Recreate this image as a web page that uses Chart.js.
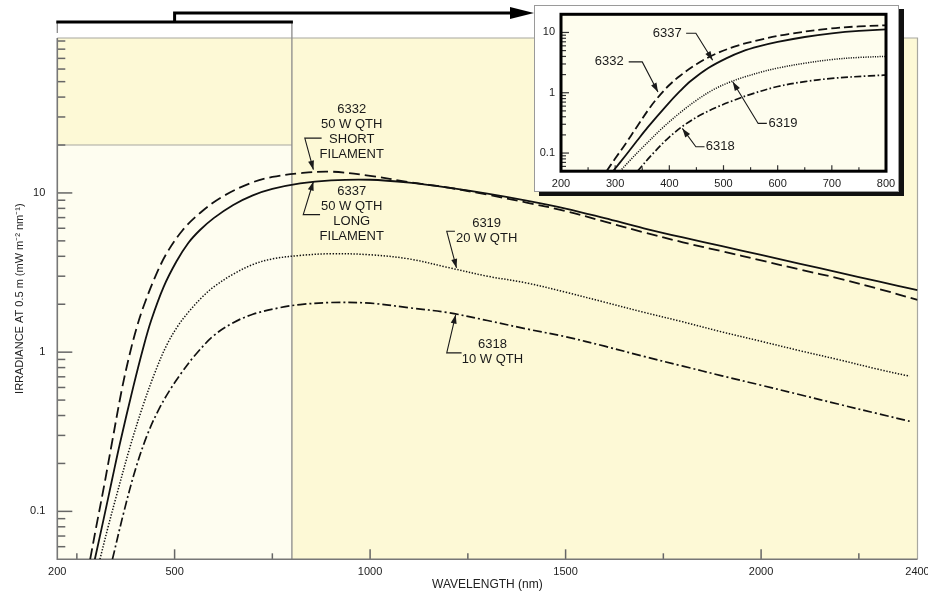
<!DOCTYPE html>
<html>
<head>
<meta charset="utf-8">
<script src="https://cdn.jsdelivr.net/npm/chart.js@4.4.1/dist/chart.umd.min.js"></script>
<style>
  body { margin: 0; background: #fff; }
  #wrap { position: relative; width: 928px; height: 597px; }
  canvas { display: block; }
  #inset {
    position: absolute; left: 534px; top: 5px; width: 365px; height: 187px;
    background: #fff; border: 1px solid #9a9a9a; box-sizing: border-box;
    box-shadow: 5px 4px 0 #111;
  }
</style>
</head>
<body>
<div id="wrap">
  <canvas id="mainChart" width="928" height="597"></canvas>
  <div id="inset"><canvas id="insetChart" width="363" height="185"></canvas></div>
</div>
<script>
// 6332, 50 W QTH short filament (dashed)
const nm6332 = [284, 300, 320, 339, 365, 383, 401, 420, 450, 480, 520, 565, 620, 693, 750, 821, 900, 1000, 1100, 1200, 1300, 1400, 1500, 1600, 1700, 1800, 1900, 2000, 2100, 2200, 2300, 2400];
const irr6332 = [0.05, 0.081, 0.146, 0.263, 0.582, 0.923, 1.37, 1.92, 2.96, 4.19, 5.81, 7.48, 9.4, 11.5, 12.6, 13.3, 13.6, 12.8, 11.7, 10.8, 9.75, 8.7, 7.7, 6.6, 5.65, 4.9, 4.3, 3.77, 3.3, 2.9, 2.5, 2.13];

// 6337, 50 W QTH long filament (solid)
const nm6337 = [296, 320, 340, 360, 394, 420, 440, 472, 505, 535, 565, 600, 650, 700, 750, 821, 900, 1000, 1100, 1200, 1300, 1400, 1500, 1600, 1700, 1800, 1900, 2000, 2100, 2200, 2300, 2400];
const irr6337 = [0.05, 0.093, 0.158, 0.266, 0.601, 1.07, 1.58, 2.57, 3.72, 4.85, 5.85, 6.95, 8.41, 9.66, 10.6, 11.5, 12.0, 12.1, 11.6, 10.8, 9.9, 8.95, 7.98, 6.94, 6.0, 5.25, 4.63, 4.08, 3.59, 3.16, 2.78, 2.45];

// 6319, 20 W QTH (dotted)
const nm6319 = [309, 330, 350, 386, 420, 450, 480, 510, 540, 570, 600, 650, 700, 750, 821, 900, 1000, 1100, 1200, 1300, 1400, 1500, 1600, 1700, 1800, 1900, 2000, 2100, 2200, 2300, 2380];
const irr6319 = [0.05, 0.08, 0.122, 0.254, 0.468, 0.748, 1.11, 1.48, 1.84, 2.21, 2.57, 3.09, 3.55, 3.85, 4.05, 4.15, 4.09, 3.85, 3.4, 3.0, 2.72, 2.38, 2.06, 1.78, 1.55, 1.34, 1.17, 1.02, 0.895, 0.78, 0.706];

// 6318, 10 W QTH (dash-dot)
const nm6318 = [341, 370, 400, 430, 460, 490, 520, 550, 600, 650, 700, 770, 821, 900, 1000, 1100, 1200, 1300, 1400, 1500, 1600, 1700, 1800, 1900, 2000, 2100, 2200, 2300, 2380];
const irr6318 = [0.05, 0.0986, 0.184, 0.302, 0.439, 0.589, 0.755, 0.942, 1.27, 1.53, 1.73, 1.905, 1.99, 2.05, 2.03, 1.9, 1.77, 1.58, 1.4, 1.25, 1.09, 0.94, 0.817, 0.71, 0.62, 0.54, 0.47, 0.41, 0.368];

// axis ticks
const xTickLabels = [200, 500, 1000, 1500, 2000, 2400];
const xMajorTicks = [500, 1000, 1500, 2000];
const xMinorTicks = [250, 750, 1250, 1750, 2250];
const yTickLabels = [0.1, 1, 10];
const yMinorTicks = [0.06, 0.07, 0.08, 0.09, 0.2, 0.3, 0.4, 0.5, 0.6, 0.7, 0.8, 0.9,
                     2, 3, 4, 5, 6, 7, 8, 9, 20, 30, 40, 50, 60, 70, 80, 90];

// inset: 200-800 nm
const insetXLabels = [200, 300, 400, 500, 600, 700, 800];
const insetXMinor = [250, 350, 450, 550, 650, 750];
const insetYLabels = [0.1, 1, 10];
const insetYMinor = [0.06, 0.07, 0.08, 0.09, 0.2, 0.3, 0.4, 0.5, 0.6, 0.7, 0.8, 0.9, 2, 3, 4, 5, 6, 7, 8, 9];

// callouts: text anchor, leader elbow and arrow tip in data units
const mainNotes = [
  { lines: ['6332', '50 W QTH', 'SHORT', 'FILAMENT'], text: [953, 33.4], leader: [[876, 22.1], [833, 22.1], [855, 14.0]] },
  { lines: ['6337', '50 W QTH', 'LONG', 'FILAMENT'], text: [953, 10.2], leader: [[872, 7.31], [829, 7.31], [855, 11.8]] },
  { lines: ['6319', '20 W QTH'], text: [1298, 6.4], leader: [[1217, 5.74], [1196, 5.74], [1221, 3.38]] },
  { lines: ['6318', '10 W QTH'], text: [1313, 1.12], leader: [[1234, 0.99], [1196, 0.99], [1219, 1.72]] }
];
const insetNotes = [
  { lines: ['6337'], text: [396, 9.7], leader: [[431, 9.7], [449, 9.7], [480, 3.47]] },
  { lines: ['6332'], text: [289, 3.25], leader: [[325, 3.25], [350, 3.25], [379, 1.03]] },
  { lines: ['6319'], text: [610, 0.31], leader: [[580, 0.31], [564, 0.31], [517, 1.52]] },
  { lines: ['6318'], text: [494, 0.127], leader: [[465, 0.127], [449, 0.127], [424, 0.256]] }
];

const series = [
  { label: '6332', nm: nm6332, irr: irr6332, dash: [11, 5], width: 1.8 },
  { label: '6337', nm: nm6337, irr: irr6337, dash: [], width: 1.8 },
  { label: '6319', nm: nm6319, irr: irr6319, dash: [1.4, 1.6], width: 1.5 },
  { label: '6318', nm: nm6318, irr: irr6318, dash: [9, 3, 2, 3], width: 1.7 }
];

const FONT = '"Liberation Sans", Arial, Helvetica, sans-serif';
Chart.defaults.font.family = FONT;
Chart.defaults.color = '#222';

function makeDatasets(dashScale) {
  return series.map(s => ({
    label: s.label,
    data: s.nm.map((v, i) => ({ x: v, y: s.irr[i] })),
    borderColor: '#111',
    borderWidth: s.width,
    borderDash: s.dash.map(d => d * dashScale),
    pointRadius: 0,
    fill: false,
    tension: 0.35
  }));
}

function tickMarks(ctx, scale, values, len, area) {
  values.forEach(v => {
    const p = scale.getPixelForValue(v);
    ctx.beginPath();
    if (scale.isHorizontal()) {
      ctx.moveTo(p, area.bottom);
      ctx.lineTo(p, area.bottom - len);
    } else {
      ctx.moveTo(area.left, p);
      ctx.lineTo(area.left + len, p);
    }
    ctx.stroke();
  });
}

function arrowHead(ctx, x0, y0, x1, y1, len, half) {
  const ang = Math.atan2(y1 - y0, x1 - x0);
  ctx.beginPath();
  ctx.moveTo(x1, y1);
  ctx.lineTo(x1 - len * Math.cos(ang) + half * Math.sin(ang), y1 - len * Math.sin(ang) - half * Math.cos(ang));
  ctx.lineTo(x1 - len * Math.cos(ang) - half * Math.sin(ang), y1 - len * Math.sin(ang) + half * Math.cos(ang));
  ctx.closePath();
  ctx.fill();
}

function drawNotes(chart, notes, fontSize, lineGap) {
  const { ctx, scales: { x, y } } = chart;
  ctx.save();
  ctx.fillStyle = '#1a1a1a';
  ctx.strokeStyle = '#1a1a1a';
  ctx.lineWidth = 1.1;
  ctx.font = fontSize + 'px ' + FONT;
  ctx.textAlign = 'center';
  ctx.textBaseline = 'middle';
  notes.forEach(n => {
    const tx = x.getPixelForValue(n.text[0]);
    const ty = y.getPixelForValue(n.text[1]);
    n.lines.forEach((t, i) => ctx.fillText(t, tx, ty + i * lineGap));
    const pts = n.leader.map(p => [x.getPixelForValue(p[0]), y.getPixelForValue(p[1])]);
    ctx.beginPath();
    ctx.moveTo(pts[0][0], pts[0][1]);
    for (let i = 1; i < pts.length; i++) ctx.lineTo(pts[i][0], pts[i][1]);
    ctx.stroke();
    const a = pts[pts.length - 2], b = pts[pts.length - 1];
    arrowHead(ctx, a[0], a[1], b[0], b[1], 9, 3);
  });
  ctx.restore();
}

const mainDecor = {
  id: 'mainDecor',
  beforeDatasetsDraw(chart) {
    const { ctx, chartArea: a, scales: { x, y } } = chart;
    const xl = x.getPixelForValue(200), xr = x.getPixelForValue(800), xm = x.getPixelForValue(500);
    const yCut = y.getPixelForValue(20);
    ctx.save();
    ctx.fillStyle = '#fdf9d6';
    ctx.fillRect(a.left, a.top, a.right - a.left, a.bottom - a.top);
    ctx.fillStyle = '#fefdf0';
    ctx.fillRect(xl, yCut, xr - xl, a.bottom - yCut);

    // thin frame lines
    ctx.strokeStyle = '#a8a8a0';
    ctx.lineWidth = 1.2;
    ctx.beginPath();
    ctx.moveTo(a.left, a.top); ctx.lineTo(a.right, a.top); ctx.lineTo(a.right, a.bottom);
    ctx.moveTo(a.left, yCut); ctx.lineTo(xr, yCut);
    ctx.stroke();
    ctx.strokeStyle = '#8a8a8a';
    ctx.lineWidth = 1.3;
    ctx.beginPath();
    ctx.moveTo(xr, a.top - 16); ctx.lineTo(xr, a.bottom);
    ctx.moveTo(xl, a.top - 16); ctx.lineTo(xl, a.top - 5);
    ctx.stroke();

    // bracket and arrow to the inset
    const box = document.getElementById('inset');
    const tipX = box.offsetLeft;
    ctx.strokeStyle = '#000';
    ctx.fillStyle = '#000';
    ctx.lineWidth = 3;
    ctx.beginPath();
    ctx.moveTo(xl - 1, a.top - 16); ctx.lineTo(xr + 1, a.top - 16);
    ctx.moveTo(xm, a.top - 16); ctx.lineTo(xm, a.top - 25); ctx.lineTo(tipX - 22, a.top - 25);
    ctx.stroke();
    ctx.beginPath();
    ctx.moveTo(tipX, a.top - 25);
    ctx.lineTo(tipX - 24, a.top - 31);
    ctx.lineTo(tipX - 24, a.top - 19);
    ctx.closePath();
    ctx.fill();

    // axes and inward ticks
    ctx.strokeStyle = '#666';
    ctx.lineWidth = 1.5;
    tickMarks(ctx, x, xMajorTicks, 10, a);
    tickMarks(ctx, x, xMinorTicks, 6, a);
    tickMarks(ctx, y, yTickLabels, 15, a);
    tickMarks(ctx, y, yMinorTicks, 8, a);
    ctx.strokeStyle = '#777';
    ctx.lineWidth = 1.6;
    ctx.beginPath();
    ctx.moveTo(a.left, a.top); ctx.lineTo(a.left, a.bottom); ctx.lineTo(a.right, a.bottom);
    ctx.stroke();
    ctx.restore();
  },
  afterDatasetsDraw(chart) {
    drawNotes(chart, mainNotes, 13, 14.8);
  }
};

const insetDecor = {
  id: 'insetDecor',
  beforeDatasetsDraw(chart) {
    const { ctx, chartArea: a, scales: { x, y } } = chart;
    ctx.save();
    ctx.fillStyle = '#fefdee';
    ctx.fillRect(a.left, a.top, a.right - a.left, a.bottom - a.top);
    ctx.strokeStyle = '#333';
    ctx.lineWidth = 1.2;
    tickMarks(ctx, x, insetXLabels, 6, a);
    tickMarks(ctx, x, insetXMinor, 4, a);
    tickMarks(ctx, y, insetYLabels, 8, a);
    tickMarks(ctx, y, insetYMinor, 5, a);
    ctx.restore();
  },
  afterDatasetsDraw(chart) {
    const { ctx, chartArea: a } = chart;
    ctx.save();
    ctx.strokeStyle = '#000';
    ctx.lineWidth = 3;
    ctx.strokeRect(a.left, a.top, a.right - a.left, a.bottom - a.top);
    ctx.restore();
    drawNotes(chart, insetNotes, 13, 14);
  }
};

new Chart(document.getElementById('mainChart').getContext('2d'), {
  type: 'line',
  data: { datasets: makeDatasets(1) },
  options: {
    responsive: false,
    animation: false,
    events: [],
    layout: { padding: { top: 38, right: 10.5, left: 0, bottom: 0 } },
    plugins: { legend: { display: false }, tooltip: { enabled: false } },
    scales: {
      x: {
        type: 'linear', min: 200, max: 2400,
        grid: { display: false, drawTicks: false }, border: { display: false },
        afterBuildTicks: s => { s.ticks = xTickLabels.map(v => ({ value: v })); },
        afterFit: s => { s.height = 37.7; s.paddingLeft = 0; s.paddingRight = 0; },
        ticks: { autoSkip: false, maxRotation: 0, padding: 6, font: { size: 11 }, callback: v => String(v) },
        title: { display: true, text: 'WAVELENGTH (nm)', font: { size: 12 }, padding: { top: 0, bottom: 5 } }
      },
      y: {
        type: 'logarithmic', min: 0.05, max: 94,
        grid: { display: false, drawTicks: false }, border: { display: false },
        afterBuildTicks: s => { s.ticks = yTickLabels.map(v => ({ value: v })); },
        afterFit: s => { s.width = 57.3; s.paddingTop = 0; s.paddingBottom = 0; },
        ticks: { autoSkip: false, padding: 12, font: { size: 11 }, callback: v => String(v) },
        title: { display: true, text: 'IRRADIANCE AT 0.5 m (mW m\u207B\u00B2 nm\u207B\u00B9)', font: { size: 11 }, padding: { top: 13.5, bottom: 0 } }
      }
    }
  },
  plugins: [mainDecor]
});

new Chart(document.getElementById('insetChart').getContext('2d'), {
  type: 'line',
  data: { datasets: makeDatasets(0.8) },
  options: {
    responsive: false,
    animation: false,
    events: [],
    layout: { padding: { top: 8.3, right: 12, left: 0, bottom: 0 } },
    plugins: { legend: { display: false }, tooltip: { enabled: false } },
    scales: {
      x: {
        type: 'linear', min: 200, max: 800,
        grid: { display: false, drawTicks: false }, border: { display: false },
        afterBuildTicks: s => { s.ticks = insetXLabels.map(v => ({ value: v })); },
        afterFit: s => { s.height = 19.8; s.paddingLeft = 0; s.paddingRight = 0; },
        ticks: { autoSkip: false, maxRotation: 0, padding: 6, font: { size: 11 }, callback: v => String(v) }
      },
      y: {
        type: 'logarithmic', min: 0.05, max: 20,
        grid: { display: false, drawTicks: false }, border: { display: false },
        afterBuildTicks: s => { s.ticks = insetYLabels.map(v => ({ value: v })); },
        afterFit: s => { s.width = 26; s.paddingTop = 0; s.paddingBottom = 0; },
        ticks: { autoSkip: false, padding: 6, font: { size: 11 }, callback: v => String(v) }
      }
    }
  },
  plugins: [insetDecor]
});
</script>
</body>
</html>
